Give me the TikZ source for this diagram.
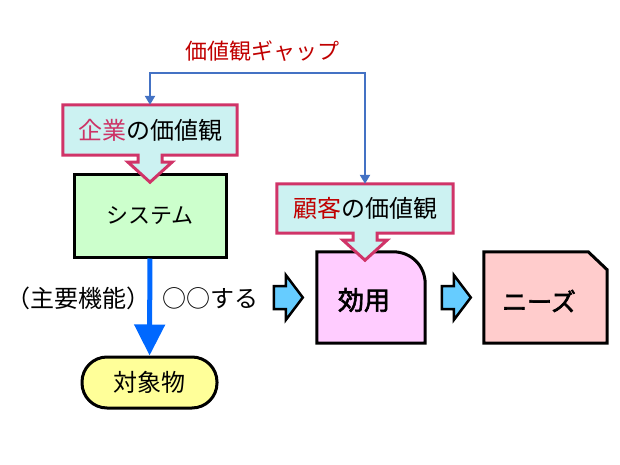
\documentclass[tikz,border=0pt]{standalone}
\usepackage{fontspec}
\newfontfamily\jpfont{Noto Sans CJK JP}
\newfontfamily\jpmid{Noto Sans CJK JP}[FakeBold=2.5]
\usetikzlibrary{arrows.meta}
\definecolor{calloutfill}{RGB}{204,242,242}
\definecolor{calloutline}{RGB}{208,52,104}
\definecolor{gapblue}{RGB}{68,114,196}
\definecolor{mainblue}{RGB}{0,104,255}
\definecolor{darkred}{RGB}{192,0,0}
\definecolor{kigyo}{RGB}{204,51,102}
\definecolor{sysgreen}{RGB}{204,255,204}
\definecolor{objyellow}{RGB}{255,255,153}
\definecolor{utilpink}{RGB}{255,204,255}
\definecolor{needpink}{RGB}{255,204,204}
\definecolor{flowblue}{RGB}{102,204,255}
\newcommand\jpsize[1]{\fontsize{#1}{#1}\selectfont}
\tikzset{
    every node/.style={font=\jpfont\jpsize{24}, inner sep=0pt},
    sysbox/.style={draw, line width=3pt, fill=sysgreen, minimum width=152pt, minimum height=83pt, font=\jpfont\jpsize{22}},
    objbox/.style={draw, line width=3pt, fill=objyellow, rounded corners=25pt, minimum width=135pt, minimum height=51pt},
    frame/.style={minimum width=#1, minimum height=91pt},
    shapeline/.style={draw=black, line width=3pt, line join=miter},
    callout/.style={draw=calloutline, fill=calloutfill, line width=3pt, line join=miter},
    flowarr/.style={draw=black, fill=flowblue, line width=2.5pt, line join=miter},
    mainarrow/.style={draw=mainblue, line width=5pt, -{Triangle[width=30pt,length=31pt]}},
    gaparrow/.style={draw=gapblue, line width=2.5pt, arrows={Triangle[width=10pt,length=9pt]-Triangle[width=10pt,length=9pt]}},
}
% callout box with a block arrow under it
\newcommand\valuecallout[1]{%
  \filldraw[callout] (#1.north west) -- (#1.north east) -- (#1.south east)
    -- ([xshift=12pt]#1.south) -- ++(0,7) -- ++(10,0) -- ++(-22,20)
    -- ++(-22,-20) -- ++(10,0) -- ++(0,-7) -- (#1.south west) -- cycle;}
% block arrow, given its tip
\newcommand\flowarrow[1]{%
  \filldraw[flowarr] #1 -- ++(-17,-22.5) -- ++(0,11) -- ++(-12,0)
    -- ++(0,23) -- ++(12,0) -- ++(0,11) -- cycle;}

\begin{document}
\begin{tikzpicture}[x=1pt,y=-1pt]
\useasboundingbox (0,0) rectangle (620,465);

\node[sysbox] (sys) at (150,215.5) {システム};
\node[objbox] (obj) at (149.5,382.5) {対象物};
\draw[mainarrow] (sys) -- (obj);

% utility and needs
\node[frame=108pt] (util) at (371,297.5) {};
\filldraw[shapeline, fill=utilpink] (util.south west) -- (util.north west)
  -- ([xshift=-32pt]util.north east)
  .. controls ([xshift=-14pt]util.north east) and ([yshift=-14pt]util.north east) .. ([yshift=-32pt]util.north east)
  -- (util.south east) -- cycle;
\node[frame=123pt] (needs) at (545.5,297.5) {};
\filldraw[shapeline, fill=needpink] (needs.south west) -- (needs.north west)
  -- ([xshift=-19pt]needs.north east) -- ([yshift=-18pt]needs.north east)
  -- (needs.south east) -- cycle;

\node (func) at (78,298) {（主要機能）};
\node (act) at (210,298) {○○する};
\flowarrow{([xshift=-14pt]util.west)}
\flowarrow{([xshift=-13pt]needs.west)}
\node[font=\jpmid\jpsize{26}] (utiltxt) at (364,300) {効用};
\node[font=\jpmid\jpsize{25}] (needstxt) at (539,301) {ニーズ};

% value callouts
\node[minimum width=174pt, minimum height=50pt] (cv1) at (150,130) {};
\valuecallout{cv1}
\node (cv1txt) at (cv1) {\textcolor{kigyo}{企業}の価値観};
\node[minimum width=176pt, minimum height=49pt] (cv2) at (365,208.5) {};
\valuecallout{cv2}
\node (cv2txt) at (cv2) {\textcolor{darkred}{顧客}の価値観};

\draw[gaparrow] (cv1.north) -- ++(0,-32) -| (cv2.north);
\node[text=darkred, font=\jpfont\jpsize{22}] (gap) at (262,51) {価値観ギャップ};
\end{tikzpicture}
\end{document}
